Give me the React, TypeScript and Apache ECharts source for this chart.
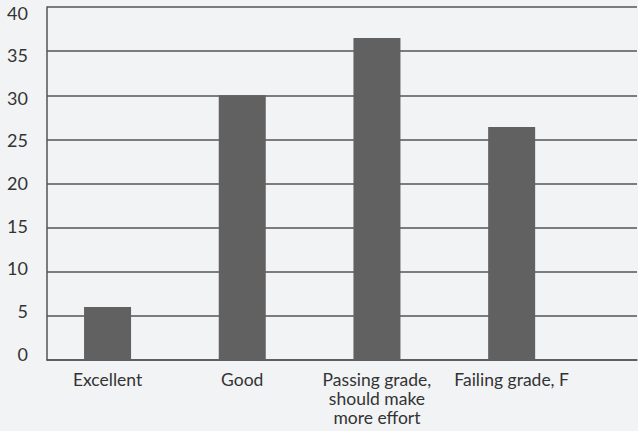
import React, { useEffect, useRef } from "react";
import * as echarts from "echarts";

const categories = ["Excellent", "Good", "Passing grade,\nshould make\nmore effort", "Failing grade, F"];
const values = [6, 30, 36.5, 26.4];
const yMin = 0;
const yMax = 40;
const yInterval = 5;

export default function App() {
  const ref = useRef<HTMLDivElement>(null);
  useEffect(() => {
    if (!ref.current) return;
    const chart = echarts.init(ref.current, undefined, { renderer: "svg" });
    const font = "Lato, 'Open Sans', sans-serif";
    chart.setOption({
      animation: false,
      backgroundColor: "#f2f3f5",
      grid: [
        { left: 47, right: 1, top: 7, bottom: 71 },
        { left: 40.2, width: 538.8, top: 7, bottom: 71 },
        { left: 47, right: 1, top: 12.5, bottom: 77.5 },
      ],
      xAxis: [
        {
          gridIndex: 0,
          type: "value",
          min: 0,
          max: 1,
          axisLine: { show: true, lineStyle: { color: "#555", width: 1.5 } },
          axisTick: { show: false },
          axisLabel: { show: false },
          splitLine: { show: false },
        },
        {
          gridIndex: 1,
          type: "category",
          data: categories,
          axisLine: { show: false },
          axisTick: { show: false },
          splitLine: { show: false },
          axisLabel: {
            interval: 0,
            margin: 10,
            color: "#333",
            fontSize: 17.5,
            lineHeight: 19,
            fontFamily: font,
          },
        },
        {
          gridIndex: 2,
          type: "value",
          min: 0,
          max: 1,
          show: false,
        },
      ],
      yAxis: [
        {
          gridIndex: 0,
          type: "value",
          min: yMin,
          max: yMax,
          interval: yInterval,
          axisLine: { show: true, lineStyle: { color: "#555", width: 1.5 } },
          axisTick: { show: false },
          splitLine: { show: true, lineStyle: { color: "#555", width: 1.5 } },
          axisLabel: { show: false },
        },
        {
          gridIndex: 1,
          type: "value",
          min: yMin,
          max: yMax,
          interval: yInterval,
          show: false,
        },
        {
          gridIndex: 2,
          type: "value",
          min: yMin,
          max: yMax,
          interval: yInterval,
          axisLine: { show: false },
          axisTick: { show: false },
          splitLine: { show: false },
          axisLabel: { margin: 19, color: "#333", fontSize: 18, fontFamily: font },
        },
      ],
      series: [
        {
          type: "bar",
          xAxisIndex: 1,
          yAxisIndex: 1,
          data: values,
          barWidth: 47,
          itemStyle: { color: "#616161" },
        },
      ],
    });
    return () => chart.dispose();
  }, []);
  return <div ref={ref} style={{ position: "fixed", left: 0, top: 0, width: 638, height: 431 }} />;
}
